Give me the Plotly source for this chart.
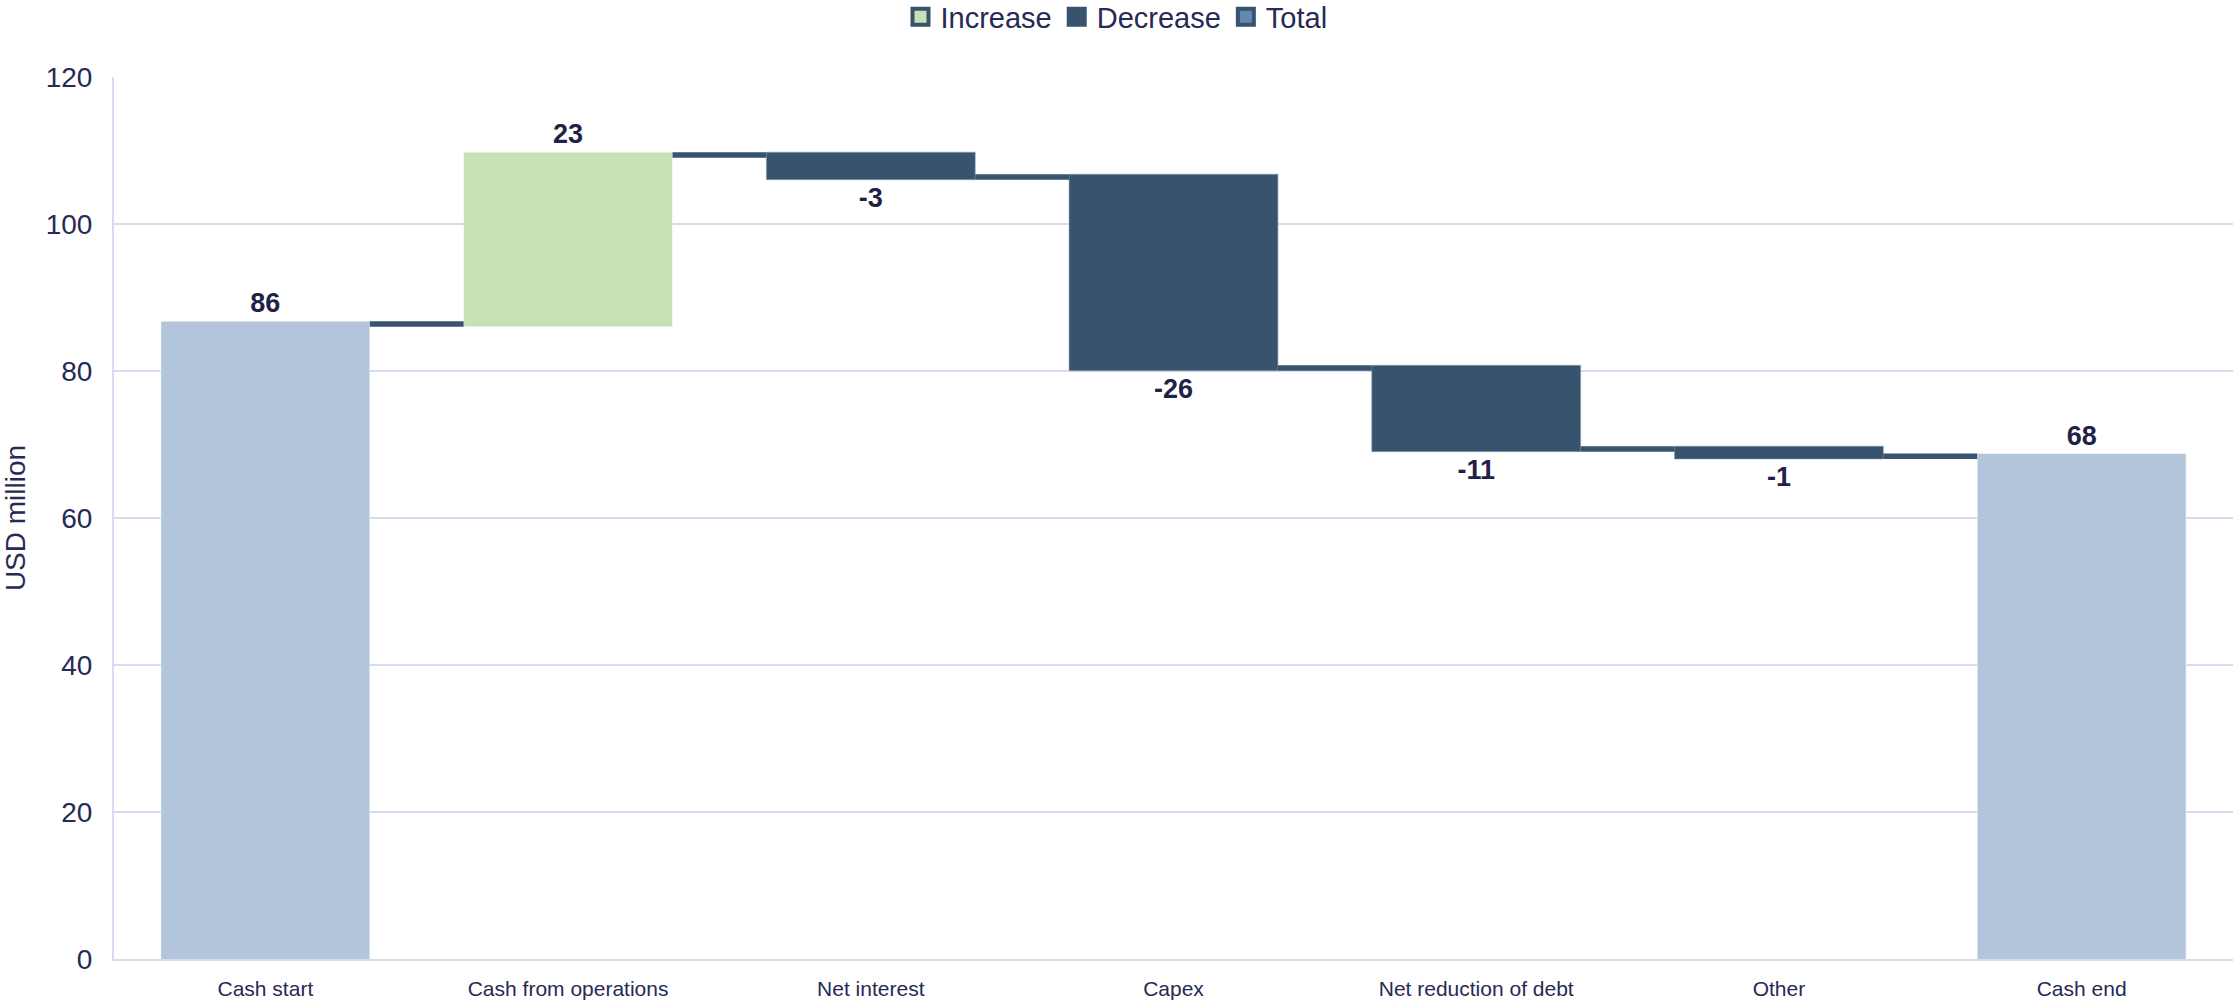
import plotly.graph_objects as go

# ---- data ----
categories = ["Cash start", "Cash from operations", "Net interest", "Capex",
              "Net reduction of debt", "Other", "Cash end"]
measures = ["absolute", "relative", "relative", "relative", "relative", "relative", "total"]
values = [86.4, 23, -3, -26, -11, -1, None]
labels = ["86", "23", "-3", "-26", "-11", "-1", "68"]
y_ticks = [0, 20, 40, 60, 80, 100, 120]
legend_names = ["Increase", "Decrease", "Total"]

# ---- styles ----
C_INC = "#c5e1b5"
C_DEC = "#37536d"
C_TOT = "#b3c5da"
C_TOT_LEG = "#6489b1"
C_TEXT = "#262a55"
C_LABEL = "#1f2247"
C_GRID = "#d8dbef"
FONT = "Liberation Sans, Arial, sans-serif"

fig = go.Figure()
fig.add_trace(go.Waterfall(
    x=categories,
    y=values,
    measure=measures,
    text=labels,
    textposition="outside",
    textfont=dict(family=FONT, size=27, color=C_LABEL, weight="bold"),
    cliponaxis=False,
    increasing=dict(marker=dict(color=C_INC, line=dict(color="rgba(255,255,255,0.5)", width=1))),
    decreasing=dict(marker=dict(color=C_DEC, line=dict(color="rgba(140,160,185,0.6)", width=1))),
    totals=dict(marker=dict(color=C_TOT, line=dict(color="rgba(255,255,255,0.5)", width=1))),
    connector=dict(line=dict(color=C_DEC, width=5.5), mode="between"),
    showlegend=False,
    hoverinfo="x+y",
))

leg_fill = [C_INC, C_DEC, C_TOT_LEG]
for name, fill in zip(legend_names, leg_fill):
    fig.add_trace(go.Scatter(
        x=[None], y=[None], mode="markers", name=name,
        marker=dict(symbol="square", size=16, color=fill,
                    line=dict(color=C_DEC, width=4)),
        showlegend=True,
    ))

fig.update_layout(
    width=2233, height=1003,
    margin=dict(l=114, r=0, t=77, b=44),
    paper_bgcolor="white", plot_bgcolor="white",
    waterfallgap=0.31,
    font=dict(family=FONT, color=C_TEXT),
    legend=dict(orientation="h", xref="container", yref="container",
                x=0.5, xanchor="center", y=1 - 17 / 1003, yanchor="middle",
                font=dict(family=FONT, size=29, color=C_TEXT),
                itemsizing="trace", bgcolor="rgba(0,0,0,0)"),
    xaxis=dict(
        type="category", showgrid=False, showline=True, linecolor=C_GRID, linewidth=2,
        tickfont=dict(family=FONT, size=21, color=C_TEXT),
        ticks="", ticklabelstandoff=10,
    ),
    yaxis=dict(
        range=[0, 120], tickvals=y_ticks, showgrid=True, gridcolor=C_GRID, gridwidth=2,
        showline=True, linecolor=C_GRID, linewidth=2, zeroline=False,
        tickfont=dict(family=FONT, size=28, color=C_TEXT),
        ticks="", ticklabelstandoff=14,
        title=dict(text="USD million", font=dict(family=FONT, size=28, color=C_TEXT), standoff=20),
    ),
)

fig.write_html("out.html")
